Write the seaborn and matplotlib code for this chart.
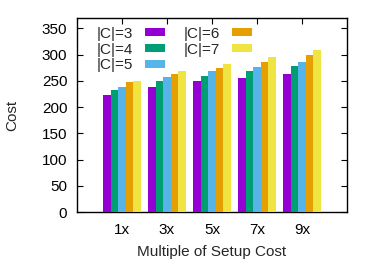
import pandas as pd
import matplotlib
matplotlib.use('Agg')
import matplotlib.pyplot as plt
import seaborn as sns

# data
multiples = ['1x', '3x', '5x', '7x', '9x']
c3 = [224, 239, 249, 256, 263]
c4 = [232, 249, 260, 269, 278]
c5 = [238, 257, 268, 277, 287]
c6 = [247, 263, 275, 287, 299]
c7 = [250, 268, 282, 295, 309]
series_names = ['|C|=3', '|C|=4', '|C|=5', '|C|=6', '|C|=7']
colors = ['#9400d3', '#009e73', '#56b4e9', '#e69f00', '#f0e442']

rows = []
for name, vals in zip(series_names, [c3, c4, c5, c6, c7]):
    for m, v in zip(multiples, vals):
        rows.append({'multiple': m, 'cost': v, 'series': name})
df = pd.DataFrame(rows)

sns.set_theme(style='white')
plt.rcParams['font.family'] = ['Liberation Sans', 'DejaVu Sans']
fs = 11

fig = plt.figure(figsize=(3.75, 2.63), dpi=100)
ax = fig.add_axes([0.2053, 0.1939, 0.72, 0.7377])

sns.barplot(data=df, x='multiple', y='cost', hue='series', palette=colors,
            width=0.85, linewidth=0, saturation=1, ax=ax, zorder=3)

ax.set_xlim(-1, 5)
ax.set_ylim(0, 370)
ax.set_yticks(range(0, 351, 50))
ax.set_xlabel('Multiple of Setup Cost', fontsize=fs, labelpad=6)
ax.set_ylabel('Cost', fontsize=fs, labelpad=16)
ax.tick_params(axis='both', labelsize=fs, direction='in', colors='black')
ax.tick_params(axis='y', left=True, right=True, length=4, width=0.8, pad=7)
ax.tick_params(axis='x', bottom=False, top=True, length=4, width=0.8, pad=8)
for s in ax.spines.values():
    s.set_color('black')
    s.set_linewidth(1)

ax.legend(ncol=2, loc='upper left', frameon=False, markerfirst=False,
          fontsize=fs, handlelength=1.3, handleheight=0.45,
          labelspacing=0.12, columnspacing=1.2, handletextpad=0.8,
          borderaxespad=0, borderpad=0, bbox_to_anchor=(0.072, 0.955))

fig.savefig('out.png', dpi=100)
